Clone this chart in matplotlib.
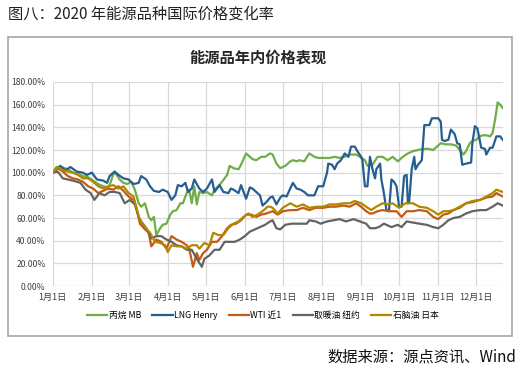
import numpy as np
import matplotlib.pyplot as plt
from matplotlib.patches import Rectangle

plt.rcParams['font.family'] = ['Noto Sans CJK SC', 'DejaVu Sans']

# 横轴: 2020年1月1日起的天数
month_days = [0, 31, 60, 91, 121, 152, 182, 213, 244, 274, 305, 335]
month_labels = ['%d月1日' % m for m in range(1, 13)]
y_ticks = list(range(0, 181, 20))

# 丙烷 MB
propane_d = [0, 3, 7, 12, 16, 20, 24, 28, 32, 36, 40, 44, 46, 48, 50, 53, 56, 59, 62, 65,
             68, 70, 73, 76, 78, 80, 82, 85, 87, 90, 93, 95, 98, 101, 103, 106, 108, 110, 112, 114,
             116, 119, 122, 126, 128, 131, 134, 138, 140, 143, 147, 149, 153, 156, 158, 161, 165, 168, 172, 174,
             177, 180, 184, 188, 190, 193, 195, 199, 203, 207, 210, 214, 219, 223, 227, 231, 235, 240, 243, 247,
             249, 253, 257, 261, 265, 269, 273, 277, 281, 285, 289, 293, 297, 301, 303, 307, 311, 315, 319, 322,
             325, 327, 330, 332, 335, 338, 340, 343, 346, 348, 350, 352, 354, 356]
propane_v = [100, 105, 105, 103, 100, 99, 97, 96, 93, 90, 88, 87, 92, 99, 99, 94, 91, 90, 92, 85,
             73, 70, 73, 61, 58, 61, 45, 51, 54, 55, 63, 66, 67, 73, 73, 82, 85, 73, 88, 72,
             83, 82, 83, 80, 85, 88, 92, 98, 106, 104, 103, 107, 117, 114, 112, 111, 114, 114, 117, 116,
             108, 104, 106, 110, 111, 110, 111, 110, 117, 114, 113, 113, 113, 114, 113, 114, 116, 116, 114, 111,
             106, 107, 114, 114, 111, 114, 110, 114, 117, 119, 120, 121, 121, 120, 122, 126, 125, 125, 124, 120,
             116, 119, 126, 128, 129, 132, 133, 133, 132, 135, 147, 162, 160, 157]

# LNG Henry
lng_d = [0, 6, 10, 14, 19, 24, 27, 31, 35, 40, 43, 45, 49, 52, 56, 60, 64, 68, 70, 74,
         77, 80, 84, 87, 91, 94, 97, 99, 102, 105, 107, 110, 112, 116, 119, 122, 126, 128, 132, 135,
         139, 141, 143, 147, 149, 153, 156, 158, 161, 164, 166, 169, 172, 174, 177, 180, 182, 185, 190, 193,
         196, 199, 202, 207, 210, 214, 217, 218, 221, 223, 225, 228, 231, 234, 236, 239, 241, 244, 245, 247,
         249, 251, 253, 255, 256, 259, 260, 262, 264, 266, 268, 270, 272, 274, 276, 278, 280, 281, 282, 284,
         286, 287, 289, 292, 294, 298, 300, 305, 307, 308, 310, 313, 315, 318, 320, 322, 324, 327, 331, 332,
         334, 336, 339, 342, 343, 346, 348, 351, 354, 356]
lng_v = [100, 106, 102, 105, 101, 100, 98, 100, 94, 93, 91, 97, 101, 98, 95, 94, 90, 91, 97, 94,
         88, 84, 83, 85, 83, 76, 80, 89, 88, 91, 83, 86, 94, 86, 83, 86, 94, 83, 89, 83,
         82, 86, 85, 82, 89, 77, 87, 86, 83, 80, 71, 74, 78, 79, 72, 78, 80, 79, 91, 86,
         85, 83, 80, 80, 88, 88, 100, 108, 107, 103, 108, 111, 117, 114, 123, 123, 119, 114, 111, 88,
         88, 114, 103, 95, 103, 108, 94, 82, 67, 66, 94, 92, 88, 70, 70, 97, 98, 73, 74, 103,
         114, 103, 107, 111, 142, 142, 148, 148, 145, 129, 128, 129, 138, 134, 126, 125, 107, 108, 109, 126,
         141, 139, 122, 121, 116, 122, 122, 132, 132, 129]

# WTI 近1
wti_d = [0, 4, 8, 12, 16, 20, 24, 28, 32, 36, 40, 44, 48, 52, 56, 60, 64, 66, 69, 73,
         76, 78, 82, 86, 90, 94, 98, 102, 106, 108, 111, 114, 116, 119, 122, 126, 130, 134, 138, 141,
         145, 149, 153, 157, 161, 165, 169, 174, 178, 182, 188, 193, 198, 203, 208, 214, 219, 224, 230, 235,
         240, 244, 248, 251, 253, 257, 261, 266, 272, 276, 280, 285, 290, 296, 301, 305, 309, 313, 317, 322,
         327, 332, 338, 343, 348, 351, 356]
wti_v = [100, 104, 101, 97, 95, 94, 92, 88, 86, 82, 84, 86, 85, 88, 84, 79, 76, 70, 55, 50,
         47, 35, 41, 39, 33, 44, 41, 39, 36, 33, 17, 29, 23, 29, 32, 39, 39, 44, 51, 54,
         55, 58, 63, 63, 61, 63, 64, 66, 63, 66, 67, 67, 69, 67, 69, 69, 70, 70, 71, 70,
         73, 70, 66, 64, 64, 66, 67, 66, 66, 61, 66, 66, 67, 66, 61, 59, 63, 64, 67, 69,
         73, 74, 76, 78, 79, 82, 79]

# 取暖油 纽约
heating_d = [0, 4, 8, 12, 16, 22, 26, 30, 33, 37, 41, 45, 49, 53, 57, 61, 65, 68, 70, 74,
             78, 82, 86, 90, 94, 98, 102, 106, 110, 114, 118, 120, 124, 128, 132, 136, 140, 144, 148, 152,
             156, 160, 164, 168, 172, 174, 177, 180, 184, 189, 195, 201, 203, 208, 212, 217, 222, 227, 232, 238,
             243, 248, 251, 255, 258, 262, 268, 273, 276, 280, 285, 290, 296, 301, 305, 309, 313, 317, 322, 327,
             332, 338, 343, 348, 352, 356]
heating_v = [100, 101, 95, 94, 93, 91, 85, 82, 76, 82, 80, 83, 83, 82, 73, 76, 72, 61, 57, 51,
             42, 44, 44, 41, 39, 36, 35, 32, 32, 24, 17, 24, 27, 32, 32, 39, 39, 39, 41, 44,
             48, 50, 52, 54, 57, 58, 51, 50, 54, 55, 55, 55, 58, 57, 55, 57, 58, 59, 57, 59,
             57, 55, 51, 51, 52, 55, 52, 54, 52, 57, 56, 55, 54, 52, 51, 54, 58, 60, 61, 64,
             66, 67, 67, 70, 73, 71]

# 石脑油 日本
naphtha_d = [0, 4, 8, 12, 16, 20, 24, 28, 32, 36, 40, 44, 48, 52, 56, 60, 64, 66, 69, 73,
             77, 81, 85, 89, 91, 94, 98, 102, 106, 110, 114, 116, 120, 124, 127, 131, 135, 139, 143, 147,
             151, 155, 158, 162, 166, 170, 172, 174, 178, 182, 188, 193, 198, 203, 209, 214, 219, 224, 230, 235,
             239, 244, 248, 252, 256, 261, 265, 269, 274, 279, 285, 290, 296, 301, 305, 309, 313, 317, 322, 327,
             332, 338, 343, 348, 351, 356]
naphtha_v = [100, 105, 102, 101, 100, 98, 95, 95, 92, 88, 86, 88, 89, 86, 88, 82, 79, 70, 58, 52,
             47, 39, 38, 36, 30, 36, 35, 35, 33, 36, 36, 33, 38, 36, 47, 45, 45, 51, 55, 57,
             61, 64, 61, 63, 66, 70, 70, 69, 64, 69, 73, 70, 72, 69, 70, 70, 72, 72, 73, 73,
             75, 73, 70, 67, 70, 73, 72, 73, 69, 73, 73, 70, 69, 66, 63, 66, 66, 67, 70, 73,
             75, 76, 79, 82, 85, 83]

series = [
    ('丙烷 MB', propane_d, propane_v, '#70AD47'),
    ('LNG Henry', lng_d, lng_v, '#255E91'),
    ('WTI 近1', wti_d, wti_v, '#C55A11'),
    ('取暖油 纽约', heating_d, heating_v, '#636363'),
    ('石脑油 日本', naphtha_d, naphtha_v, '#B08800'),
]

fig = plt.figure(figsize=(5.29, 3.71), dpi=100)
ax = fig.add_axes([0.0996, 0.229, 0.8507, 0.550])

for name, d, v, col in series:
    ax.plot(d, v, color=col, lw=1.6, label=name)

ax.set_xlim(0, 356)
ax.set_ylim(0, 180)
ax.set_xticks(month_days)
ax.set_xticklabels(month_labels, fontsize=6.6, color='#404040')
ax.set_yticks(y_ticks)
ax.set_yticklabels(['%.2f%%' % t for t in y_ticks], fontsize=6.2, color='#404040')
ax.tick_params(length=0, pad=5)
ax.grid(True, color='#D9D9D9', lw=0.9)
ax.set_axisbelow(True)
for s in ax.spines.values():
    s.set_visible(False)

ax.legend(loc='upper center', bbox_to_anchor=(0.467, -0.085), ncol=5, frameon=False,
          fontsize=6.3, handlelength=2.3, handletextpad=0.15, columnspacing=1.3)

# 外框
fig.patches.append(Rectangle((8 / 529, 1 - 336 / 371), 504 / 529, 299 / 371,
                             transform=fig.transFigure, fill=False, ec='#A6A6A6', lw=1.2))

fig.text(8 / 529, 1 - 14 / 371, '图八：2020 年能源品种国际价格变化率', fontsize=11,
         va='center', ha='left', color='#222222')
fig.text(258 / 529, 1 - 57 / 371, '能源品年内价格表现', fontsize=11, fontweight='bold',
         va='center', ha='center', color='#262626')
fig.text(516 / 529, 1 - 357 / 371, '数据来源：源点资讯、Wind', fontsize=11,
         va='center', ha='right', color='#111111')

fig.savefig('out.png', dpi=100)
